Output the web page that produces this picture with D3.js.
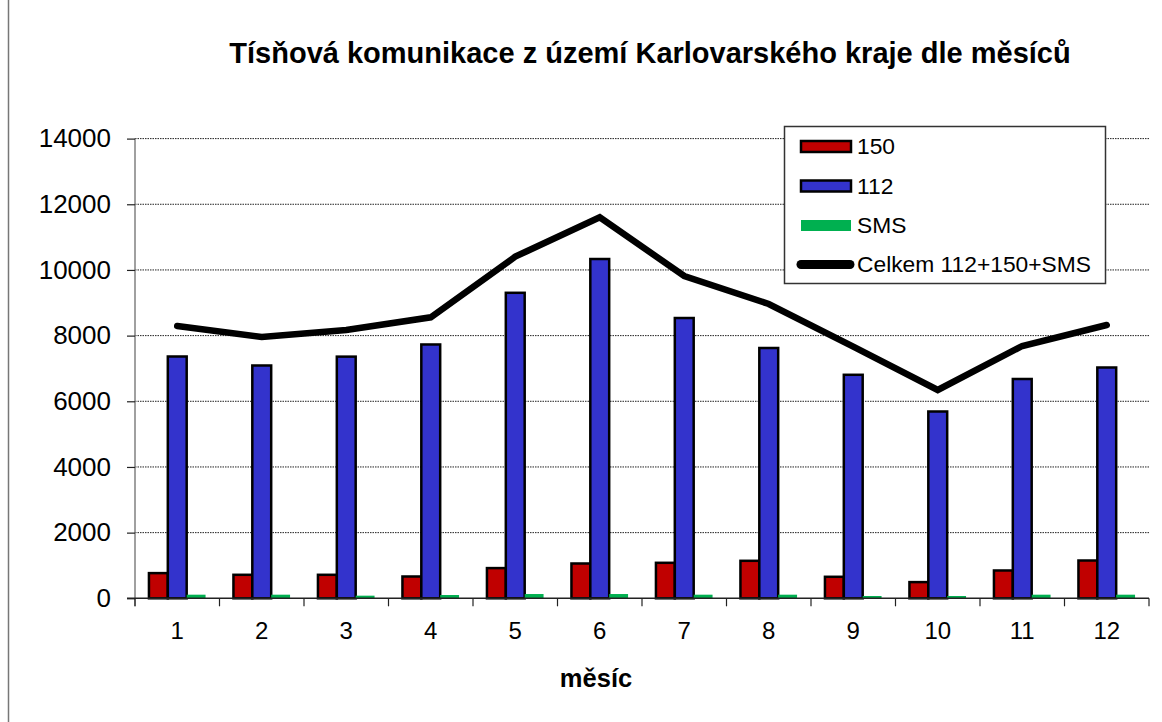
<!DOCTYPE html>
<html>
<head>
<meta charset="utf-8">
<script src="https://cdn.jsdelivr.net/npm/d3@7"></script>
<style>
  html, body { margin: 0; padding: 0; background: #fff; }
  svg { display: block; font-family: "Liberation Sans", Arial, sans-serif; }
</style>
</head>
<body>
<svg id="chart" width="1162" height="722"></svg>
<script>
const months = ["1","2","3","4","5","6","7","8","9","10","11","12"];
const s150 = [767, 716, 716, 664, 920, 1060, 1081, 1142, 655, 493, 847, 1151];
const s112 = [7364, 7090, 7360, 7730, 9304, 10333, 8536, 7623, 6807, 5689, 6679, 7029];
const sSMS = [110, 110, 80, 100, 130, 130, 110, 110, 70, 70, 110, 110];
const sTotal = [8293, 7960, 8171, 8558, 10404, 11603, 9816, 8963, 7663, 6344, 7684, 8323];
const yTicks = [0, 2000, 4000, 6000, 8000, 10000, 12000, 14000];
const seriesNames = ["150", "112", "SMS", "Celkem 112+150+SMS"];
const colors = ["#C00000", "#3333CC", "#00B050", "#000000"];
const title = "Tísňová komunikace z území Karlovarského kraje dle měsíců";
const xTitle = "měsíc";

const svg = d3.select("#chart");
const pLeft = 135, pRight = 1149, pTop = 138.6, pBottom = 598.3;

const x = d3.scaleBand().domain(months).range([pLeft, pRight]).padding(0);
const y = d3.scaleLinear().domain([0, 14000]).range([pBottom, pTop]);

// outer frame (left edge visible)
svg.append("line").attr("x1", 8.5).attr("x2", 8.5).attr("y1", 0).attr("y2", 722)
  .attr("stroke", "#777").attr("stroke-width", 1.5);

// gridlines
svg.append("g").selectAll("line").data(yTicks.filter(d => d > 0)).join("line")
  .attr("x1", pLeft).attr("x2", pRight)
  .attr("y1", d => y(d)).attr("y2", d => y(d))
  .attr("stroke", "#222").attr("stroke-width", 1).attr("stroke-dasharray", "1.5,1");

// y axis
const yAxis = d3.axisLeft(y).tickValues(yTicks).tickSize(8).tickPadding(16).tickFormat(d3.format("d"));
const gy = svg.append("g").attr("transform", `translate(${pLeft},0)`).call(yAxis);
gy.select(".domain").attr("stroke", "#808080").attr("stroke-width", 1.5).attr("d", `M0,${pTop}V${pBottom + 8}`);
gy.selectAll(".tick line").attr("stroke", "#222").attr("stroke-width", 1.2);
gy.selectAll(".tick text").attr("font-size", 26).attr("fill", "#000")
  .attr("font-family", "'Liberation Sans', Arial, sans-serif");

// bars
const gw = x.bandwidth() * 0.67;
const inner = d3.scaleBand().domain([0, 1, 2]).range([0, gw]).padding(0);
const off = (x.bandwidth() - gw) / 2;
const barSeries = [s150, s112, sSMS];
barSeries.forEach((vals, si) => {
  svg.append("g").selectAll("rect").data(vals).join("rect")
    .attr("x", (d, i) => x(months[i]) + off + inner(si))
    .attr("width", inner.bandwidth())
    .attr("y", d => y(d))
    .attr("height", d => y(0) - y(d))
    .attr("fill", colors[si])
    .attr("stroke", si < 2 ? "#000" : "none")
    .attr("stroke-width", 2.5);
});

// x axis
const xAxis = d3.axisBottom(x).tickSize(0).tickPadding(24);
const gx = svg.append("g").attr("transform", `translate(0,${pBottom})`).call(xAxis);
gx.select(".domain").attr("stroke", "#222").attr("stroke-width", 1.5).attr("d", `M${pLeft - 8},0H${pRight}`);
gx.selectAll(".tick text").attr("font-size", 24).attr("fill", "#000")
  .attr("font-family", "'Liberation Sans', Arial, sans-serif");
// x tick marks between categories
svg.append("g").selectAll("line").data(months.concat(["end"])).join("line")
  .attr("x1", (d, i) => pLeft + i * x.step()).attr("x2", (d, i) => pLeft + i * x.step())
  .attr("y1", pBottom).attr("y2", pBottom + 8)
  .attr("stroke", "#222").attr("stroke-width", 1.2);

// total line
const line = d3.line().x((d, i) => x(months[i]) + x.bandwidth() / 2).y(d => y(d));
svg.append("path").datum(sTotal).attr("d", line)
  .attr("fill", "none").attr("stroke", "#000").attr("stroke-width", 6.5)
  .attr("stroke-linecap", "round").attr("stroke-linejoin", "miter");

// titles
svg.append("text").attr("x", 650).attr("y", 63).attr("text-anchor", "middle")
  .attr("font-size", 29).attr("font-weight", "bold").text(title);
svg.append("text").attr("x", 596).attr("y", 687).attr("text-anchor", "middle")
  .attr("font-size", 25.5).attr("font-weight", "bold").text(xTitle);

// legend
const lg = svg.append("g");
lg.append("rect").attr("x", 784.5).attr("y", 126.5).attr("width", 321).attr("height", 157)
  .attr("fill", "#fff").attr("stroke", "#333").attr("stroke-width", 1.5);
const rowY = [146.5, 186, 225.5, 264.5];
seriesNames.forEach((name, i) => {
  if (i < 3) {
    lg.append("rect").attr("x", 801).attr("y", rowY[i] - 5.5).attr("width", 50).attr("height", 11)
      .attr("fill", colors[i]).attr("stroke", i < 2 ? "#000" : "none").attr("stroke-width", 2.5);
  } else {
    lg.append("line").attr("x1", 801).attr("x2", 850).attr("y1", rowY[i]).attr("y2", rowY[i])
      .attr("stroke", "#000").attr("stroke-width", 9).attr("stroke-linecap", "round");
  }
  lg.append("text").attr("x", 857).attr("y", rowY[i]).attr("dy", "0.35em")
    .attr("font-size", 22.8).attr("fill", "#000").text(name);
});
</script>
</body>
</html>
